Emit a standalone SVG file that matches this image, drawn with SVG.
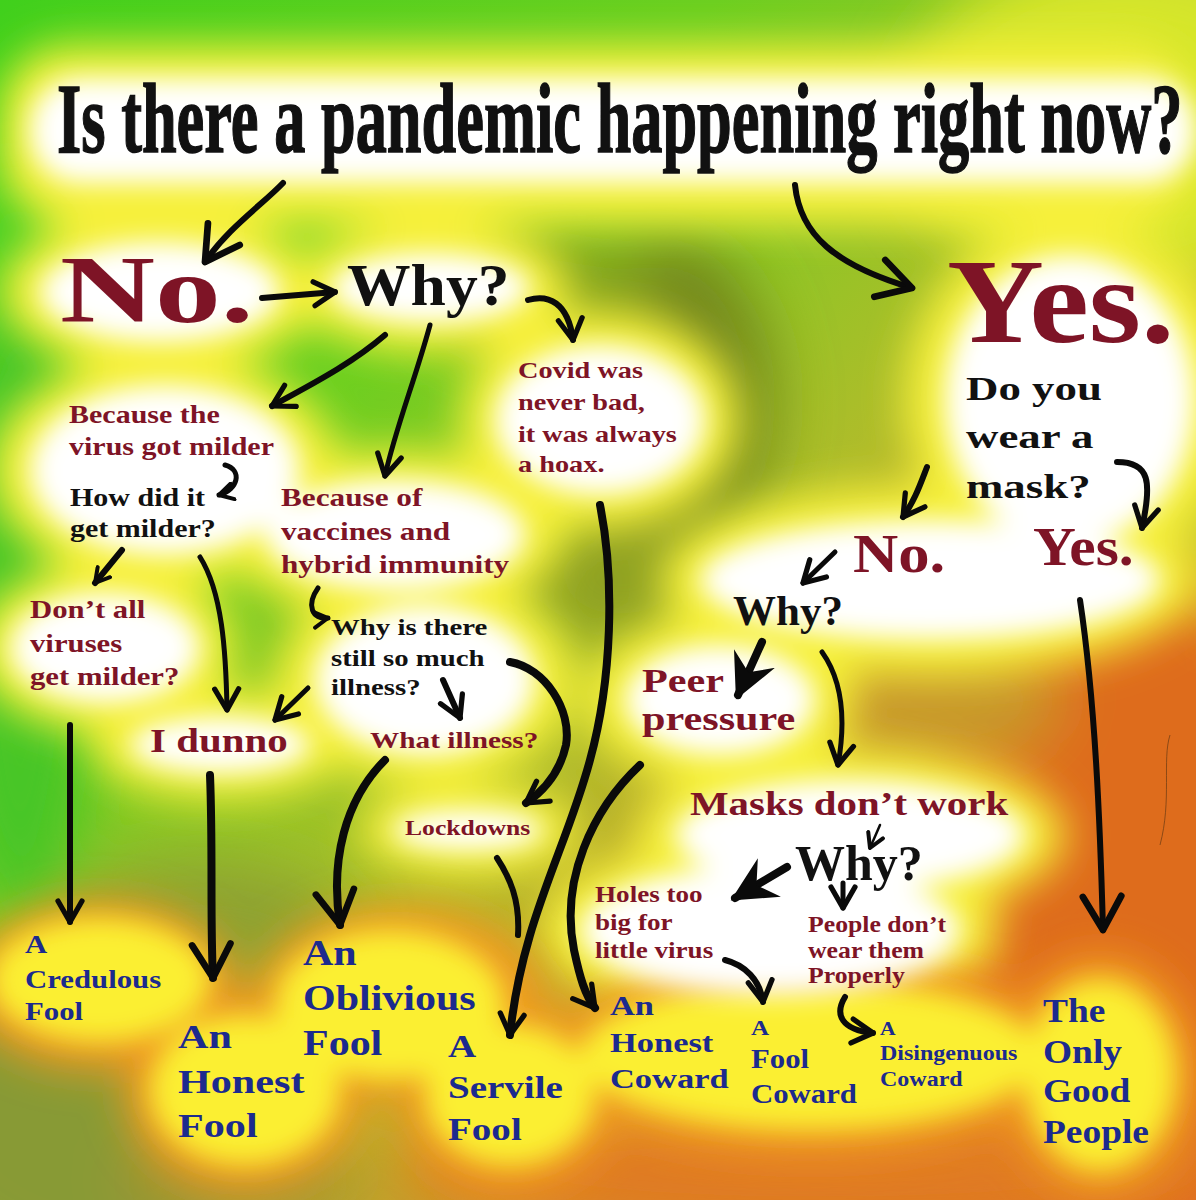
<svg xmlns="http://www.w3.org/2000/svg" width="1196" height="1200" viewBox="0 0 1196 1200">
<style>
.t{font-family:"Liberation Serif","Times New Roman",serif;font-weight:bold}
.r{fill:#7e1426}.k{fill:#111}.b{fill:#1c2a8e}
.c{fill:none;stroke:#0a0a0a;stroke-linecap:round;stroke-linejoin:round}
.w6{stroke-width:6}.w5{stroke-width:5}.w4{stroke-width:4}.w3{stroke-width:2.5}.w8{stroke-width:8}
</style>
<defs>
<linearGradient id="bg" x1="0" y1="0" x2="1" y2="1">
<stop offset="0" stop-color="#40d01c"/>
<stop offset="0.3" stop-color="#6ccf20"/>
<stop offset="0.55" stop-color="#b0bc2a"/>
<stop offset="0.78" stop-color="#d68a28"/>
<stop offset="1" stop-color="#e06a1e"/>
</linearGradient>
<filter id="b30" x="-50%" y="-50%" width="200%" height="200%"><feGaussianBlur stdDeviation="30"/></filter>
<filter id="b20" x="-50%" y="-50%" width="200%" height="200%"><feGaussianBlur stdDeviation="20"/></filter>
<filter id="b13" x="-50%" y="-50%" width="200%" height="200%"><feGaussianBlur stdDeviation="13"/></filter>
<marker id="ah" viewBox="0 0 20 20" refX="16" refY="10" markerWidth="30" markerHeight="30" markerUnits="userSpaceOnUse" orient="auto"><path d="M2,2 L16,10 L2,18" fill="none" stroke="#0a0a0a" stroke-width="3.5" stroke-linecap="round" stroke-linejoin="round"/></marker>
<marker id="ahb" viewBox="0 0 20 20" refX="16" refY="10" markerWidth="48" markerHeight="48" markerUnits="userSpaceOnUse" orient="auto"><path d="M2,2 L16,10 L2,18" fill="none" stroke="#0a0a0a" stroke-width="2.8" stroke-linecap="round" stroke-linejoin="round"/></marker>
<marker id="ahs" viewBox="0 0 20 20" refX="16" refY="10" markerWidth="20" markerHeight="20" markerUnits="userSpaceOnUse" orient="auto"><path d="M2,2 L16,10 L2,18" fill="none" stroke="#0a0a0a" stroke-width="4" stroke-linecap="round" stroke-linejoin="round"/></marker>
<marker id="ahf" viewBox="0 0 20 20" refX="16" refY="10" markerWidth="50" markerHeight="50" markerUnits="userSpaceOnUse" orient="auto"><path d="M0,1 L18,10 L0,19 L6,10 Z" fill="#0a0a0a"/></marker>
</defs>

<g id="background">
<rect width="1196" height="1200" fill="url(#bg)"/>
<g filter="url(#b30)">
<ellipse cx="1130" cy="120" rx="230" ry="170" fill="#d6e62c"/>
<ellipse cx="1160" cy="500" rx="120" ry="200" fill="#c8c82a"/>
<ellipse cx="1120" cy="860" rx="190" ry="300" fill="#de6c1c"/>
<ellipse cx="820" cy="1170" rx="420" ry="60" fill="#e07a20"/>
<ellipse cx="90" cy="1110" rx="200" ry="170" fill="#889a34"/>
<ellipse cx="240" cy="1180" rx="120" ry="50" fill="#a49430"/>
<ellipse cx="200" cy="930" rx="150" ry="70" fill="#8ea232"/>
<ellipse cx="665" cy="400" rx="110" ry="165" fill="#74881a"/>
<ellipse cx="620" cy="580" rx="90" ry="70" fill="#90a220"/>
<ellipse cx="540" cy="290" rx="110" ry="60" fill="#86a41e"/>
<ellipse cx="440" cy="565" rx="130" ry="35" fill="#8ea020"/>
<ellipse cx="930" cy="700" rx="130" ry="70" fill="#c89a2c"/>
<ellipse cx="20" cy="600" rx="80" ry="320" fill="#46c628"/>
<ellipse cx="20" cy="230" rx="60" ry="60" fill="#4cd024"/>
</g>
<g filter="url(#b20)" fill="#f6f03a">
<rect x="0" y="45" width="1196" height="180" rx="70"/>
<ellipse cx="160" cy="292" rx="160" ry="80"/>
<ellipse cx="430" cy="288" rx="140" ry="65"/>
<ellipse cx="600" cy="420" rx="140" ry="110"/>
<ellipse cx="165" cy="470" rx="175" ry="115"/>
<ellipse cx="395" cy="535" rx="170" ry="85"/>
<ellipse cx="105" cy="648" rx="130" ry="85"/>
<ellipse cx="425" cy="680" rx="150" ry="105"/>
<ellipse cx="220" cy="745" rx="130" ry="55"/>
<ellipse cx="468" cy="830" rx="110" ry="45"/>
<ellipse cx="1070" cy="400" rx="165" ry="180"/>
<ellipse cx="930" cy="580" rx="270" ry="95"/>
<ellipse cx="720" cy="700" rx="135" ry="85"/>
<ellipse cx="850" cy="835" rx="215" ry="85"/>
<ellipse cx="770" cy="930" rx="230" ry="95"/>
</g>
<g filter="url(#b20)" fill="#f09a22">
<ellipse cx="100" cy="985" rx="135" ry="85"/>
<ellipse cx="245" cy="1090" rx="120" ry="100"/>
<ellipse cx="400" cy="1000" rx="145" ry="95"/>
<ellipse cx="510" cy="1095" rx="110" ry="95"/>
<ellipse cx="810" cy="1055" rx="260" ry="100"/>
<ellipse cx="1100" cy="1075" rx="100" ry="120"/>
</g>
<g filter="url(#b13)" fill="#fbef32">
<ellipse cx="100" cy="980" rx="110" ry="62"/>
<ellipse cx="245" cy="1090" rx="95" ry="75"/>
<ellipse cx="390" cy="1005" rx="115" ry="75"/>
<ellipse cx="510" cy="1095" rx="85" ry="70"/>
<ellipse cx="810" cy="1055" rx="230" ry="75"/>
<ellipse cx="1100" cy="1075" rx="75" ry="95"/>
</g>
<g filter="url(#b13)" fill="#ffffff">
<rect x="30" y="78" width="1166" height="105" rx="50"/>
<ellipse cx="160" cy="292" rx="120" ry="50"/>
<ellipse cx="430" cy="288" rx="100" ry="35"/>
<ellipse cx="600" cy="420" rx="105" ry="75"/>
<ellipse cx="165" cy="470" rx="135" ry="85"/>
<ellipse cx="395" cy="535" rx="130" ry="55"/>
<ellipse cx="105" cy="648" rx="95" ry="55"/>
<ellipse cx="425" cy="680" rx="110" ry="75"/>
<ellipse cx="220" cy="745" rx="90" ry="28"/>
<ellipse cx="468" cy="830" rx="75" ry="20"/>
<ellipse cx="1070" cy="400" rx="125" ry="145"/>
<ellipse cx="930" cy="580" rx="230" ry="60"/>
<ellipse cx="720" cy="700" rx="95" ry="55"/>
<ellipse cx="850" cy="835" rx="175" ry="55"/>
<ellipse cx="770" cy="930" rx="190" ry="65"/>
</g>
<path d="M1170,735 C1162,760 1172,800 1160,845" fill="none" stroke="#6a3a12" stroke-width="1" opacity="0.7"/>
</g>

<g id="connectors">
<path class="c w6" d="M283,183 C262,205 228,228 205,262" marker-end="url(#ahb)"/>
<path class="c w6" d="M795,185 C800,235 835,265 912,288" marker-end="url(#ahb)"/>
<path class="c w6" d="M262,298 L335,292" marker-end="url(#ah)"/>
<path class="c w6" d="M385,335 C350,365 310,385 272,406" marker-end="url(#ah)"/>
<path class="c w5" d="M430,325 C415,380 395,430 385,476" marker-end="url(#ah)"/>
<path class="c w6" d="M528,300 C548,294 568,302 573,340" marker-end="url(#ah)"/>
<path class="c w5" d="M225,465 C243,470 238,490 219,495" marker-end="url(#ahs)"/>
<path class="c w6" d="M122,550 L95,583" marker-end="url(#ahs)"/>
<path class="c w5" d="M200,557 C222,592 226,650 227,710" marker-end="url(#ah)"/>
<path class="c w5" d="M318,588 C306,605 312,620 328,618" marker-end="url(#ahs)"/>
<path class="c w5" d="M308,688 L275,720" marker-end="url(#ah)"/>
<path class="c w6" d="M443,680 L460,718" marker-end="url(#ah)"/>
<path class="c w8" d="M510,662 C545,668 572,710 566,745 C560,772 545,790 526,803" marker-end="url(#ah)"/>
<path class="c w8" d="M600,505 C615,580 612,680 590,760 C566,850 522,920 510,1035" marker-end="url(#ah)"/>
<path class="c w6" d="M497,858 C510,878 520,900 518,935"/>
<path class="c w8" d="M640,765 C592,810 560,880 574,950 C580,978 585,995 595,1008" marker-end="url(#ah)"/>
<path class="c w6" d="M70,725 L70,922" marker-end="url(#ah)"/>
<path class="c w8" d="M210,775 C213,850 210,920 213,978" marker-end="url(#ahb)"/>
<path class="c w8" d="M385,760 C345,800 330,860 340,925" marker-end="url(#ahb)"/>
<path class="c w6" d="M1117,462 C1150,462 1152,482 1142,528" marker-end="url(#ah)"/>
<path class="c w6" d="M927,467 C920,485 915,500 903,517" marker-end="url(#ah)"/>
<path class="c w5" d="M835,552 L803,583" marker-end="url(#ah)"/>
<path class="c w8" d="M762,642 L738,695" marker-end="url(#ahf)"/>
<path class="c w5" d="M822,652 C842,680 846,720 838,765" marker-end="url(#ah)"/>
<path class="c w3" d="M880,825 L870,848" marker-end="url(#ahs)"/>
<path class="c w8" d="M787,867 L735,898" marker-end="url(#ahf)"/>
<path class="c w5" d="M843,883 L843,908" marker-end="url(#ah)"/>
<path class="c w6" d="M725,960 C745,965 760,980 763,1002" marker-end="url(#ah)"/>
<path class="c w6" d="M845,997 C834,1015 842,1030 873,1033" marker-end="url(#ah)"/>
<path class="c w6" d="M1080,600 C1095,700 1100,820 1103,930" marker-end="url(#ahb)"/>
</g>

<g id="title"><text class="t k" transform="translate(57,152) scale(0.624,1)" font-size="100" stroke="#111" stroke-width="1.5">Is there a pandemic happening right now?</text></g>
<g id="no" class="t r" font-size="96" transform="translate(60,0) scale(1.37,1)"><text x="0" y="322">No.</text></g>
<g id="why1" class="t k" font-size="60" transform="translate(347,0) scale(1.06,1)"><text x="0" y="305">Why?</text></g>
<g id="yes" class="t r" font-size="120" transform="translate(947,0) scale(1.12,1)"><text x="0" y="342">Yes.</text></g>
<g id="covid" class="t r" font-size="24" transform="translate(518,0) scale(1.18,1)">
<text x="0" y="378">Covid was</text>
<text x="0" y="410">never bad,</text>
<text x="0" y="442">it was always</text>
<text x="0" y="472">a hoax.</text>
</g>
<g id="milder" class="t r" font-size="25" transform="translate(69,0) scale(1.2,1)">
<text x="0" y="423">Because the</text>
<text x="0" y="455">virus got milder</text>
</g>
<g id="howdid" class="t k" font-size="25" transform="translate(70,0) scale(1.2,1)">
<text x="0" y="506">How did it</text>
<text x="0" y="537">get milder?</text>
</g>
<g id="vaccines" class="t r" font-size="25" transform="translate(281,0) scale(1.25,1)">
<text x="0" y="506">Because of</text>
<text x="0" y="540">vaccines and</text>
<text x="0" y="573">hybrid immunity</text>
</g>
<g id="dontall" class="t r" font-size="25" transform="translate(30,0) scale(1.23,1)">
<text x="0" y="618">Don’t all</text>
<text x="0" y="652">viruses</text>
<text x="0" y="685">get milder?</text>
</g>
<g id="whyillness" class="t k" font-size="24" transform="translate(331,0) scale(1.2,1)">
<text x="0" y="635">Why is there</text>
<text x="0" y="666">still so much</text>
<text x="0" y="695">illness?</text>
</g>
<g id="idunno" class="t r" font-size="33" transform="translate(150,0) scale(1.24,1)"><text x="0" y="752">I dunno</text></g>
<g id="whatillness" class="t r" font-size="24" transform="translate(370,0) scale(1.22,1)"><text x="0" y="748">What illness?</text></g>
<g id="lockdowns" class="t r" font-size="21" transform="translate(405,0) scale(1.22,1)"><text x="0" y="835">Lockdowns</text></g>
<g id="credulous" class="t b" font-size="25" transform="translate(25,0) scale(1.23,1)">
<text x="0" y="953">A</text>
<text x="0" y="988">Credulous</text>
<text x="0" y="1020">Fool</text>
</g>
<g id="honestfool" class="t b" font-size="34" transform="translate(178,0) scale(1.24,1)">
<text x="0" y="1048">An</text>
<text x="0" y="1093">Honest</text>
<text x="0" y="1137">Fool</text>
</g>
<g id="oblivious" class="t b" font-size="35" transform="translate(303,0) scale(1.2,1)">
<text x="0" y="965">An</text>
<text x="0" y="1010">Oblivious</text>
<text x="0" y="1055">Fool</text>
</g>
<g id="servile" class="t b" font-size="32" transform="translate(448,0) scale(1.22,1)">
<text x="0" y="1057">A</text>
<text x="0" y="1098">Servile</text>
<text x="0" y="1140">Fool</text>
</g>
<g id="honestcoward" class="t b" font-size="28" transform="translate(610,0) scale(1.23,1)">
<text x="0" y="1015">An</text>
<text x="0" y="1052">Honest</text>
<text x="0" y="1088">Coward</text>
</g>
<g id="foolcoward" class="t b" font-size="27" transform="translate(751,0) scale(1.14,1)">
<text x="0" y="1035" font-size="22">A</text>
<text x="0" y="1068">Fool</text>
<text x="0" y="1103">Coward</text>
</g>
<g id="disingenuous" class="t b" font-size="20" transform="translate(880,0) scale(1.2,1)">
<text x="0" y="1035" font-size="18">A</text>
<text x="0" y="1060">Disingenuous</text>
<text x="0" y="1086">Coward</text>
</g>
<g id="goodpeople" class="t b" font-size="34" transform="translate(1043,0) scale(1.1,1)">
<text x="0" y="1022">The</text>
<text x="0" y="1063">Only</text>
<text x="0" y="1102">Good</text>
<text x="0" y="1143">People</text>
</g>
<g id="mask" class="t k" font-size="34" transform="translate(966,0) scale(1.32,1)">
<text x="0" y="400">Do you</text>
<text x="0" y="448">wear a</text>
<text x="0" y="498">mask?</text>
</g>
<g id="no2" class="t r" font-size="54" transform="translate(853,0) scale(1.16,1)"><text x="0" y="572">No.</text></g>
<g id="yes2" class="t r" font-size="54" transform="translate(1033,0) scale(1.1,1)"><text x="0" y="565">Yes.</text></g>
<g id="why2" class="t k" font-size="43" transform="translate(733,0) scale(1.0,1)"><text x="0" y="625">Why?</text></g>
<g id="peer" class="t r" font-size="33" transform="translate(642,0) scale(1.28,1)">
<text x="0" y="692">Peer</text>
<text x="0" y="730">pressure</text>
</g>
<g id="masksdont" class="t r" font-size="33" transform="translate(690,0) scale(1.24,1)"><text x="0" y="815">Masks don’t work</text></g>
<g id="why3" class="t k" font-size="50" transform="translate(795,0) scale(1.0,1)"><text x="0" y="880">Why?</text></g>
<g id="holes" class="t r" font-size="24" transform="translate(595,0) scale(1.13,1)">
<text x="0" y="902">Holes too</text>
<text x="0" y="930">big for</text>
<text x="0" y="958">little virus</text>
</g>
<g id="peopledont" class="t r" font-size="23" transform="translate(808,0) scale(1.12,1)">
<text x="0" y="932">People don’t</text>
<text x="0" y="958">wear them</text>
<text x="0" y="983">Properly</text>
</g>
</svg>
